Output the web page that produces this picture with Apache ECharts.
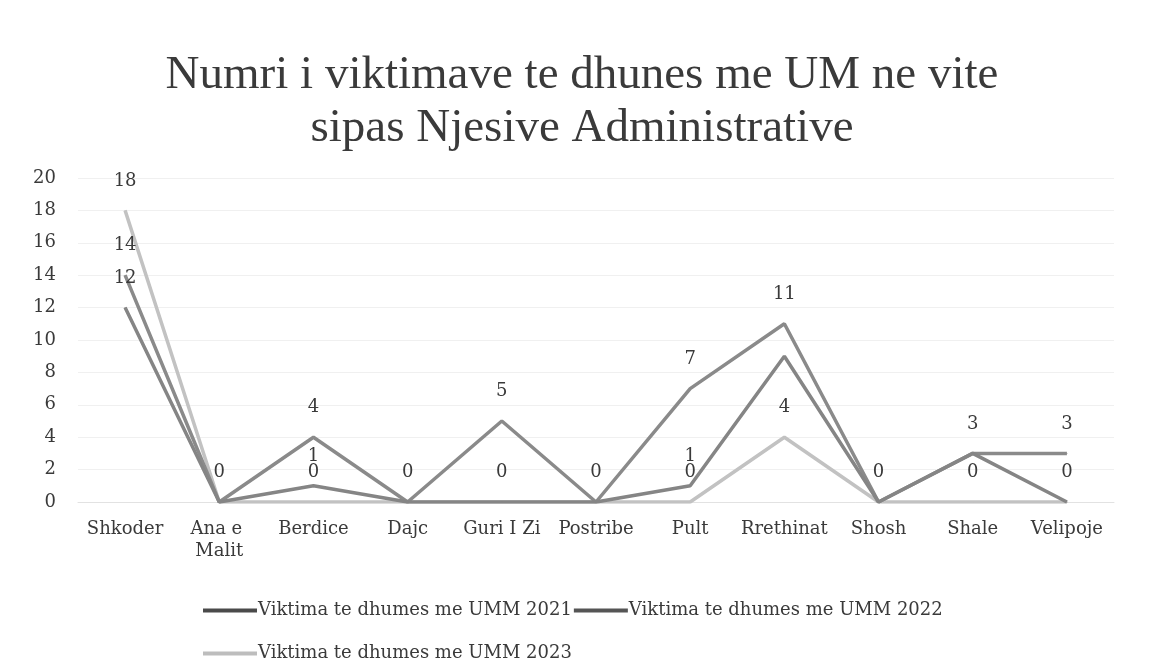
<!DOCTYPE html>
<html><head><meta charset="utf-8">
<script src="https://cdn.jsdelivr.net/npm/echarts@6/dist/echarts.min.js"></script>
<style>html,body{margin:0;padding:0;background:#fff}#c{width:1164px;height:672px}</style>
</head><body><div id="c"></div>
<script>
const categories = ["Shkoder","Ana e Malit","Berdice","Dajc","Guri I Zi","Postribe","Pult","Rrethinat","Shosh","Shale","Velipoje"];
const seriesNames = ["Viktima te dhumes me UMM 2021","Viktima te dhumes me UMM 2022","Viktima te dhumes me UMM 2023"];
const v2021 = [12,0,1,0,0,0,1,9,0,3,0];
const v2022 = [14,0,4,0,5,0,7,11,0,3,3];
const v2023 = [18,0,0,0,0,0,0,4,0,0,0];
const yTicks = [0,2,4,6,8,10,12,14,16,18,20];

const TFONT = "'Liberation Serif', serif";
const FONT = "'DejaVu Serif', serif";
const lineColors = ["#858585","#8a8a8a","#c2c2c2"];
const legendColors = ["#4a4a4a","#555555","#bdbdbd"];
const hiddenLabels = [[7],[],[]]; // labels not visible in the original

const values = [v2021, v2022, v2023];
// a label identical to one already drawn at the same spot is shown once
function labelVisible(i, j){
  if (hiddenLabels[i].includes(j)) return false;
  for (let k = i+1; k < values.length; k++) if (values[k][j] === values[i][j]) return false;
  return true;
}
const chart = echarts.init(document.getElementById('c'), null, {renderer:'canvas'});
chart.setOption({
  animation:false,
  backgroundColor:'#fff',
  title:{
    text:'Numri i viktimave te dhunes me UM ne vite\nsipas Njesive Administrative',
    left:'center', top:44,
    textStyle:{fontFamily:TFONT, fontSize:47, fontWeight:'normal', color:'#3a3a3a', lineHeight:53}
  },
  legend:{
    left:198, top:585, width:760, itemWidth:54, itemHeight:4, itemGap:2,
    icon:'rect',
    textStyle:{fontFamily:FONT, fontSize:18, color:'#3a3a3a', lineHeight:41, padding:[0,0,0,-4]},
    data: seriesNames.map((n,i)=>({name:n, itemStyle:{color:legendColors[i]}}))
  },
  grid:{left:78, right:50, top:178, bottom:170},
  xAxis:{
    type:'category', data:categories, boundaryGap:true,
    axisLine:{lineStyle:{color:'#e2e2e2'}}, axisTick:{show:false},
    axisLabel:{interval:0, fontFamily:FONT, fontSize:18, color:'#3a3a3a', margin:16, width:96, overflow:'break', lineHeight:22}
  },
  yAxis:{
    type:'value', min:yTicks[0], max:yTicks[yTicks.length-1], interval:yTicks[1]-yTicks[0],
    axisLine:{show:false}, axisTick:{show:false},
    splitLine:{lineStyle:{color:'#f0f0f0'}},
    axisLabel:{fontFamily:FONT, fontSize:18, color:'#3a3a3a', margin:22}
  },
  series: values.map((arr,i)=>({
    name:seriesNames[i], type:'line', symbol:'circle', symbolSize:1, showSymbol:true,
    lineStyle:{width:3.5, color:lineColors[i]}, itemStyle:{color:lineColors[i]},
    z: 3-i,
    data: arr.map((v,j)=> labelVisible(i,j) ? v : {value:v, label:{show:false}}),
    label:{show:true, position:'top', distance:20, fontFamily:FONT, fontSize:18, color:'#3a3a3a'}
  }))
});
</script></body></html>
